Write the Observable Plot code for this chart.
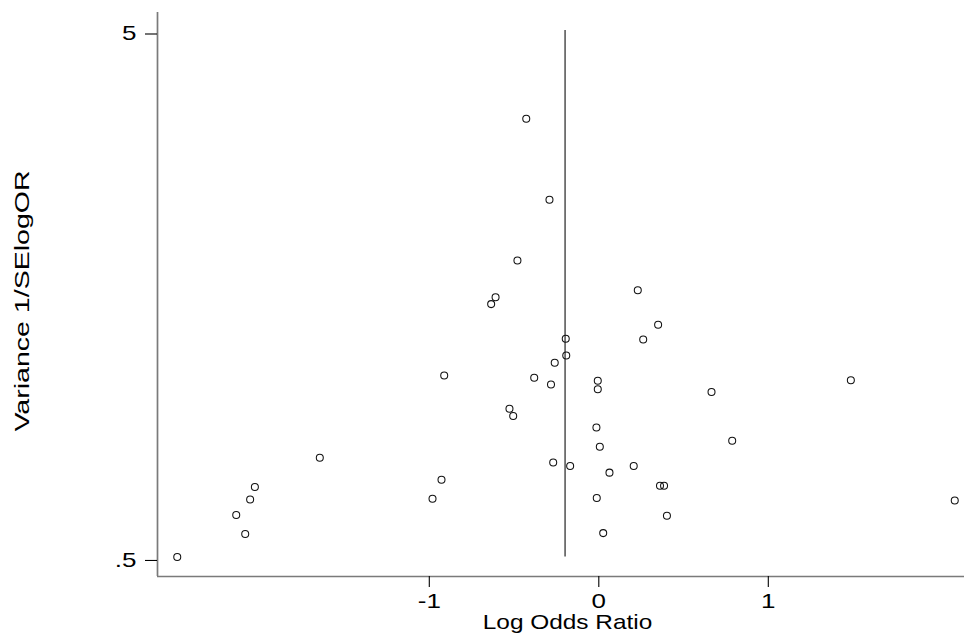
<!DOCTYPE html>
<html><head><meta charset="utf-8">
<script src="https://cdn.jsdelivr.net/npm/d3@7"></script>
<script src="https://cdn.jsdelivr.net/npm/@observablehq/plot@0.6"></script>
<style>html,body{margin:0;padding:0;background:#fff} #chart svg{display:block}</style>
</head><body><div id="chart"></div>
<script>
// Study log odds ratios (x) and precision 1/SE (y)
const logOR = [
  -0.428, -0.291, -0.480, -0.609, -0.635, 0.230, 0.350, -0.195, 0.262, -0.192,
  -0.260, -0.912, -0.381, -0.282, -0.006, -0.006, 0.665, 1.487, -0.527, -0.505,
  -0.014, 0.006, 0.787, -1.646, -0.269, -0.169, 0.206, 0.063, -0.928, -2.029,
  0.361, 0.385, -0.981, -0.012, -2.057, 2.100, -2.139, 0.402, -2.086, 0.026,
  -2.487
];
const precision = [
  3.398, 2.385, 1.829, 1.557, 1.511, 1.606, 1.380, 1.298, 1.294, 1.207,
  1.169, 1.106, 1.095, 1.063, 1.081, 1.041, 1.029, 1.083, 0.956, 0.926,
  0.881, 0.810, 0.831, 0.772, 0.756, 0.744, 0.744, 0.723, 0.701, 0.679,
  0.683, 0.683, 0.645, 0.647, 0.643, 0.640, 0.601, 0.599, 0.553, 0.555,
  0.500
];
const pooledLogOR = -0.199;
const refLineSpan = [0.5, 5];
const xTicks = [-1, 0, 1];
const xTickLabels = ["-1", "0", "1"];
const yTicks = [0.5, 5];
const yTickLabels = [".5", "5"];
const xTitle = "Log Odds Ratio";
const yTitle = "Variance 1/SElogOR";

const xDomain = [-2.6035, 2.1575];
const yDomain = [0.45906, 5.4095];

const points = logOR.map((x, i) => ({x, y: precision[i]}));
const font = "'Liberation Sans', Arial, Helvetica, sans-serif";

const chart = Plot.plot({
  width: 964,
  height: 633,
  marginLeft: 157,
  marginRight: 0,
  marginTop: 12,
  marginBottom: 57,
  style: {fontFamily: font, background: "#fff", color: "#000", overflow: "visible"},
  x: {domain: xDomain},
  y: {type: "log", domain: yDomain},
  marks: [
    Plot.ruleX([xDomain[0]], {stroke: "#7a7a7a", strokeWidth: 1.7}),
    Plot.ruleY([yDomain[0]], {stroke: "#7a7a7a", strokeWidth: 1.7}),
    Plot.axisX({ticks: xTicks, tickFormat: d => xTickLabels[xTicks.indexOf(d)],
      tickSize: 11, tickPadding: 6, fontSize: 20, label: null, strokeWidth: 1.1}),
    Plot.axisY({ticks: yTicks, tickFormat: d => yTickLabels[yTicks.indexOf(d)],
      tickSize: 12, tickPadding: 9, fontSize: 20, label: null, dy: 3.5, strokeWidth: 1.1}),
    Plot.ruleX([pooledLogOR], {y1: refLineSpan[0], y2: refLineSpan[1], stroke: "#333", strokeWidth: 1.3}),
    Plot.dot(points, {x: "x", y: "y", r: 3.5, stroke: "#111", strokeWidth: 1.05, fill: "none"}),
    Plot.text([xTitle], {frameAnchor: "bottom", textAnchor: "middle", lineAnchor: "middle",
      dx: 6.5, dy: 46, fontSize: 20, fill: "#000"}),
    Plot.text([yTitle], {frameAnchor: "left", textAnchor: "middle", lineAnchor: "middle",
      dx: -135.7, dy: 6.5, rotate: -90, fontSize: 21, fill: "#000"})
  ]
});
document.getElementById("chart").appendChild(chart);

// widen glyphs along the text direction to match the reference's wide lettering
function stretchText(t, s) {
  const ax = parseFloat(t.getAttribute("x") || 0) || 0;
  const tr = t.getAttribute("transform") || "";
  t.setAttribute("transform", `${tr} translate(${ax},0) scale(${s},1) translate(${-ax},0)`);
}
chart.querySelectorAll("text").forEach(t => {
  const s = t.textContent;
  if (s === xTitle) stretchText(t, 1.22);
  else if (s === yTitle) stretchText(t, 1.36);
  else if (xTickLabels.includes(s) || yTickLabels.includes(s)) stretchText(t, 1.3);
});
</script>
</body></html>
